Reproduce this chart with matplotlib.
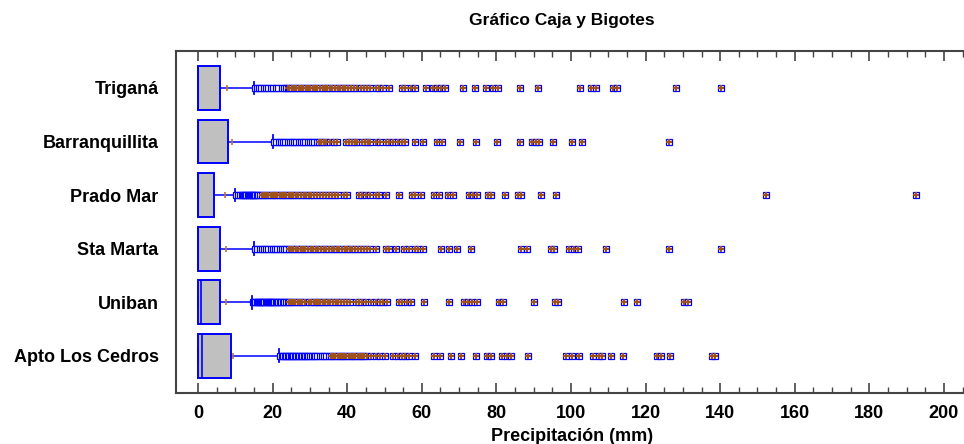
import matplotlib
matplotlib.use('Agg')
import matplotlib.pyplot as plt
from matplotlib import font_manager
import numpy as np

# estaciones, de arriba hacia abajo
estaciones = ['Triganá', 'Barranquillita', 'Prado Mar', 'Sta Marta', 'Uniban', 'Apto Los Cedros']

# resumen de cajas (mm)
q1 = [0.0, 0.0, 0.0, 0.0, 0.0, 0.0]
mediana = [0.0, 0.0, 0.0, 0.0, 0.7, 1.0]
q3 = [5.9, 8.1, 4.2, 6.0, 6.0, 8.8]
bigote_sup = [14.9, 20.2, 9.9, 14.9, 14.6, 21.8]
media = [7.9, 9.0, 7.3, 7.5, 7.5, 9.5]

# puntos fuera de los bigotes
atipicos_trigana = [15.3, 15.8, 16.4, 17.0, 17.6, 18.2, 18.9, 19.5, 20.2, 20.8, 21.4, 22.4, 23.0, 23.5,
                    24.0, 24.5, 25.1, 25.8, 26.3, 27.0, 27.6, 28.2, 28.9, 29.4, 30.1, 30.8, 31.5, 32.0,
                    32.7, 33.4, 34.1, 34.7, 35.3, 36.0, 36.8, 37.5, 38.2, 38.9, 39.5, 40.2, 41.0, 41.8,
                    42.5, 43.6, 44.4, 45.2, 46.2, 47.6, 48.4, 49.7, 51.1, 54.6, 55.4, 57.0, 58.3, 61.0,
                    62.9, 64.0, 65.1, 66.1, 71.0, 74.2, 77.2, 79.0, 80.4, 86.3, 91.1, 102.4, 105.4,
                    106.7, 111.3, 112.4, 128.2, 140.1]
atipicos_barranq = [20.5, 21.0, 21.6, 22.2, 22.8, 23.4, 24.0, 24.6, 25.2, 25.8, 26.4, 27.0, 27.6, 28.2,
                    28.8, 29.4, 30.0, 30.6, 31.2, 31.8, 32.5, 33.1, 33.7, 34.4, 35.5, 36.4, 37.3, 39.6,
                    40.4, 41.2, 42.1, 42.7, 43.9, 44.8, 45.6, 46.2, 47.6, 48.9, 50.3, 51.3, 52.4, 53.5,
                    54.6, 55.6, 58.1, 60.2, 64.2, 65.3, 70.2, 74.4, 80.1, 86.3, 89.5, 90.6, 91.4, 95.2,
                    100.3, 103.0, 126.3]
atipicos_prado = [10.3, 10.8, 11.3, 11.8, 12.1, 12.4, 12.7, 13.0, 13.3, 13.6, 13.9, 14.2, 14.5, 14.8,
                  15.1, 15.4, 15.7, 16.0, 16.5, 17.1, 17.7, 18.3, 18.9, 19.5, 20.1, 20.7, 21.3, 21.9,
                  22.5, 23.1, 23.7, 24.4, 25.0, 25.6, 26.3, 26.9, 27.6, 28.3, 29.0, 29.7, 30.4, 31.1,
                  31.8, 32.6, 33.4, 34.2, 35.0, 35.9, 36.8, 37.6, 39.2, 39.9, 43.2, 44.1, 45.0, 46.2,
                  47.6, 48.4, 50.3, 53.8, 57.5, 58.3, 59.7, 63.4, 64.5, 66.9, 68.3, 72.6, 73.7, 74.7,
                  77.7, 78.5, 82.3, 85.8, 86.6, 91.9, 96.0, 152.4, 192.5]
atipicos_stamarta = [15.3, 15.9, 16.5, 17.1, 17.7, 18.3, 18.9, 19.5, 20.1, 20.7, 21.3, 21.9, 22.5, 23.1,
                     23.7, 24.3, 24.9, 25.6, 26.2, 26.9, 27.5, 28.2, 28.8, 29.5, 30.2, 30.8, 31.6, 32.3,
                     33.0, 33.7, 34.4, 35.1, 35.8, 36.5, 37.2, 37.9, 38.6, 39.3, 40.0, 40.7, 41.4, 42.2,
                     43.0, 43.8, 44.6, 45.4, 46.2, 47.8, 50.3, 51.3, 53.2, 55.1, 56.5, 58.1, 59.1, 60.2,
                     65.1, 67.2, 69.4, 73.1, 86.6, 88.2, 94.6, 95.4, 99.5, 100.8, 101.9, 109.4, 126.3, 140.3]
atipicos_uniban = [14.8, 15.1, 15.4, 15.7, 16.0, 16.3, 16.6, 16.9, 17.2, 17.5, 17.8, 18.1, 18.4, 18.7,
                   19.0, 19.3, 19.6, 19.9, 20.2, 20.5, 20.8, 21.1, 21.5, 21.9, 22.3, 22.7, 23.1, 23.5,
                   24.0, 24.5, 25.0, 25.5, 26.1, 26.7, 27.3, 27.9, 28.6, 29.8, 30.4, 31.0, 31.6, 32.2,
                   32.8, 33.5, 34.1, 34.8, 35.5, 36.2, 36.9, 37.6, 38.4, 39.2, 40.0, 40.8, 42.3, 43.2,
                   44.1, 45.0, 46.5, 47.6, 48.7, 49.7, 50.8, 53.8, 54.8, 55.9, 57.0, 60.5, 67.2, 71.2,
                   72.3, 73.4, 74.7, 80.6, 81.7, 90.1, 95.7, 96.5, 114.2, 117.7, 130.4, 131.5]
atipicos_cedros = [22.0, 22.4, 22.8, 23.2, 23.6, 24.0, 24.4, 24.8, 25.2, 25.6, 26.0, 26.4, 26.8, 27.2,
                   27.6, 28.0, 28.4, 28.8, 29.2, 29.6, 30.0, 30.5, 31.0, 31.5, 32.0, 32.6, 33.2, 33.8,
                   34.4, 35.0, 35.6, 36.2, 36.8, 37.4, 38.0, 38.6, 39.2, 39.8, 40.4, 41.0, 41.6, 42.2,
                   42.8, 43.4, 44.0, 44.6, 45.2, 46.5, 47.6, 48.9, 50.0, 52.4, 53.5, 54.6, 55.6, 56.7,
                   58.1, 63.2, 64.8, 67.7, 70.4, 74.5, 77.4, 78.5, 81.5, 82.8, 83.9, 88.4, 98.7, 100.3,
                   102.2, 105.9, 107.5, 108.3, 110.8, 114.0, 123.1, 124.2, 126.6, 137.9, 138.7]
atipicos = [atipicos_trigana, atipicos_barranq, atipicos_prado, atipicos_stamarta,
            atipicos_uniban, atipicos_cedros]

# fuentes: Arial Narrow si existe
nombres = {f.name for f in font_manager.fontManager.ttflist}
angosta = ['Liberation Sans Narrow'] if 'Liberation Sans Narrow' in nombres else []
fam_angosta = angosta + ['Liberation Sans', 'DejaVu Sans']
fam_normal = ['Liberation Sans', 'DejaVu Sans']

fig = plt.figure(figsize=(9.64, 4.44), dpi=100)
W, H = 964, 444
x0_px, y_top, y_bot = 176, 51, 392.7
ppm = (944 - 198) / 200.0
xmin = -(198 - x0_px) / ppm
xmax = 212
ax = fig.add_axes([x0_px / W, (H - y_bot) / H, (xmax - xmin) * ppm / W, (y_bot - y_top) / H])

n = len(estaciones)
pos = np.arange(n, 0, -1)

stats = []
for i in range(n):
    stats.append(dict(med=mediana[i], q1=q1[i], q3=q3[i], whislo=q1[i], whishi=bigote_sup[i],
                      mean=media[i], fliers=[], label=estaciones[i]))

azul = '#0000ff'
ax.bxp(stats, positions=pos, widths=0.82, orientation='horizontal', patch_artist=True,
       showmeans=True, showfliers=False, capwidths=0.24,
       boxprops=dict(facecolor='#c0c0c0', edgecolor=azul, linewidth=1.4),
       medianprops=dict(color=azul, linewidth=1.2),
       whiskerprops=dict(color=azul, linewidth=1.1),
       capprops=dict(color=azul, linewidth=1.3),
       meanprops=dict(marker='|', markeredgecolor='#c07040', markersize=5, markeredgewidth=1.2))

# atípicos: cuadros; más allá de 3 RIC con cruz
for i in range(n):
    vals = np.array(atipicos[i])
    lim = q3[i] + 3 * (q3[i] - q1[i])
    y = np.full(len(vals), pos[i], dtype=float)
    ax.plot(vals, y, ls='none', marker='s', markersize=4.8, markerfacecolor='white',
            markeredgecolor=azul, markeredgewidth=0.9, zorder=4)
    lejos = vals > lim
    ax.plot(vals[lejos], y[lejos], ls='none', marker='+', markersize=4.0,
            markeredgecolor='#a0521d', markeredgewidth=1.5, zorder=5)

ax.set_xlim(xmin, xmax)
ax.set_ylim(0.31, n + 0.69)
ax.set_xticks(np.arange(0, 201, 20))
ax.set_xticks(np.arange(0, 211, 5), minor=True)
ax.set_yticks(pos)
ax.set_yticklabels(estaciones, fontsize=13, fontweight='bold', family=fam_normal)
ax.tick_params(axis='y', length=0, pad=12.5)
ax.tick_params(axis='x', which='major', direction='in', length=7, width=1.2, color='#444444',
               top=True, pad=9)
ax.tick_params(axis='x', which='minor', direction='in', length=4, width=1.0, color='#444444',
               top=True)
for lab in ax.get_xticklabels():
    lab.set_fontsize(13)
    lab.set_fontweight('bold')
    lab.set_family(fam_angosta)
for s in ax.spines.values():
    s.set_color('#444444')
    s.set_linewidth(1.5)

fig.text(562 / W, 1 - 20 / H, 'Gráfico Caja y Bigotes', ha='center', va='center',
         fontsize=12.5, fontweight='bold', family=fam_angosta)
fig.text(572 / W, 1 - 436 / H, 'Precipitación (mm)', ha='center', va='center',
         fontsize=13, fontweight='bold', family=fam_angosta)

fig.savefig('out.png', dpi=100)
